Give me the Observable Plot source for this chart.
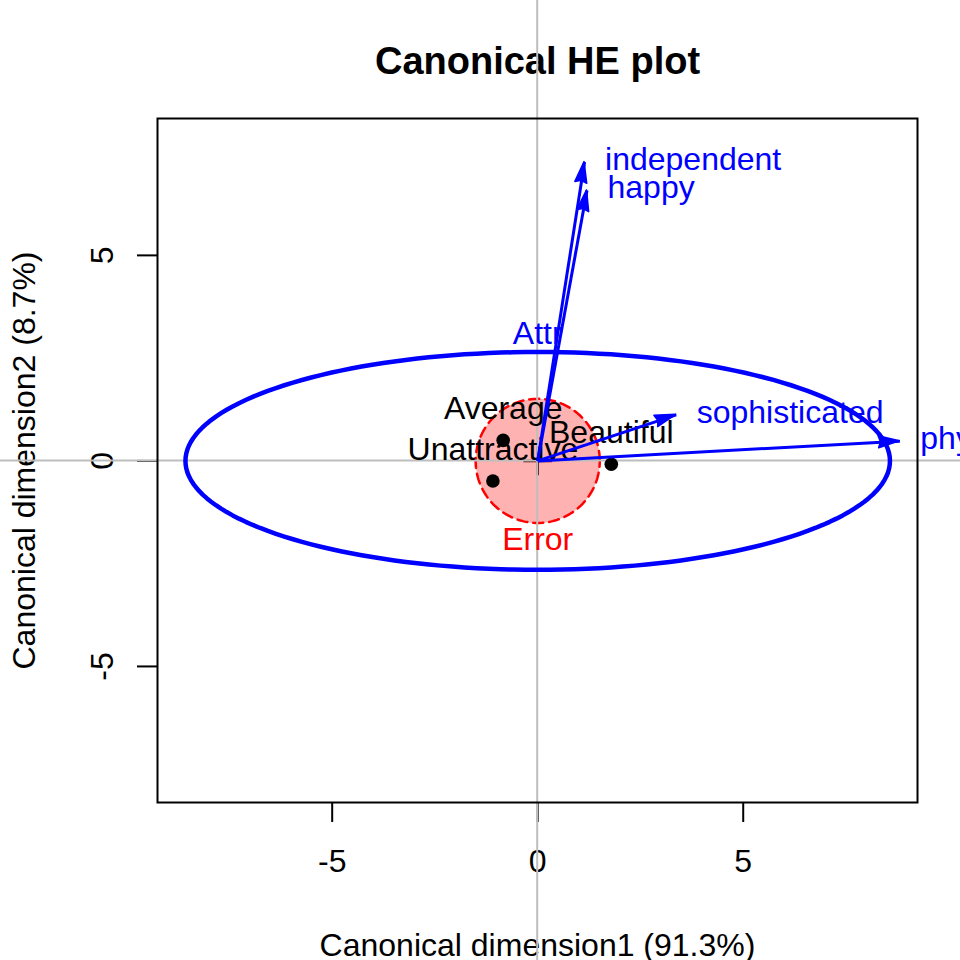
<!DOCTYPE html>
<html>
<head>
<meta charset="utf-8">
<script src="https://cdn.jsdelivr.net/npm/d3@7"></script>
<script src="https://cdn.jsdelivr.net/npm/@observablehq/plot@0.6"></script>
<style>
html, body { margin: 0; padding: 0; background: #fff; overflow: hidden; }
#chart svg { display: block; }
</style>
</head>
<body>
<div id="chart"></div>
<script>
// ---- data ----
const title = "Canonical HE plot";
const xLabel = "Canonical dimension1 (91.3%)";
const yLabel = "Canonical dimension2 (8.7%)";
const xTicks = [-5, 0, 5];
const yTicks = [-5, 0, 5];

const groupNames = ["Average", "Unattractive", "Beautiful"];
const groupX = [-0.84, -1.09, 1.79];
const groupY = [0.50, -0.49, -0.08];

const vectorNames = ["independent", "happy", "sophisticated", "phyattr"];
const vectorX = [1.14, 1.20, 3.37, 8.81];
const vectorY = [7.27, 6.58, 1.12, 0.48];

const hName = "Attr";
const hRadii = [8.57, 2.65];
const eName = "Error";
const eRadius = 1.51;

// ---- derived tables ----
const font = "'Liberation Sans', Arial, Helvetica, sans-serif";
const groups = groupNames.map((name, i) => ({name, x: groupX[i], y: groupY[i]}));
const vectors = vectorNames.map((name, i) => ({name, x: vectorX[i], y: vectorY[i]}));
const angles = d3.range(0, 360, 2).map(d => d * Math.PI / 180);
const hEllipse = angles.map(t => ({x: hRadii[0] * Math.cos(t), y: hRadii[1] * Math.sin(t)}));
const eCircle = angles.map(t => ({x: eRadius * Math.cos(t), y: eRadius * Math.sin(t)}));

// gray reference lines through the origin, across the whole figure
function crossLines(index, scales, values, dims) {
  const g = d3.create("svg:g").attr("stroke", "#bebebe").attr("stroke-width", 2);
  const x0 = scales.x(0), y0 = scales.y(0);
  g.append("line").attr("x1", x0).attr("x2", x0).attr("y1", 0).attr("y2", dims.height);
  g.append("line").attr("x1", 0).attr("x2", dims.width).attr("y1", y0).attr("y2", y0);
  return g.node();
}

// filled arrow heads at the vector tips
function arrowHeads(index, scales) {
  const g = d3.create("svg:g").attr("fill", "blue").attr("stroke", "blue")
    .attr("stroke-width", 1.5).attr("stroke-linejoin", "round");
  const L = 21, W = 6;
  for (const v of vectors) {
    const x1 = scales.x(0), y1 = scales.y(0), x2 = scales.x(v.x), y2 = scales.y(v.y);
    const a = Math.atan2(y2 - y1, x2 - x1);
    const ca = Math.cos(a), sa = Math.sin(a);
    const bx = x2 - L * ca, by = y2 - L * sa;
    const ix = x2 - 0.9 * L * ca, iy = y2 - 0.9 * L * sa;
    g.append("path").attr("d",
      `M${x2},${y2}L${bx - sa * W},${by + ca * W}L${ix},${iy}L${bx + sa * W},${by - ca * W}Z`);
  }
  return g.node();
}

const plot = Plot.plot({
  width: 960,
  height: 960,
  marginLeft: 157,
  marginRight: 43,
  marginTop: 118,
  marginBottom: 158,
  x: {domain: [-9.25, 9.24]},
  y: {domain: [-8.31, 8.33]},
  style: {fontFamily: font, fontSize: "32px", background: "white", color: "black"},
  marks: [
    // titles
    Plot.text([title], {frameAnchor: "top", text: d => d, textAnchor: "middle", lineAnchor: "bottom", dy: -45,
      fontSize: 38, fontWeight: "bold", fill: "black"}),
    Plot.text([xLabel], {frameAnchor: "bottom", text: d => d, textAnchor: "middle", lineAnchor: "bottom", dy: 153,
      fontSize: 32, fill: "black"}),
    Plot.text([yLabel], {frameAnchor: "left", text: d => d, rotate: -90, textAnchor: "middle", lineAnchor: "bottom",
      dx: -123, fontSize: 32, fill: "black"}),
    // axes
    Plot.axisX({ticks: xTicks, tickSize: 20, tickPadding: 27, tickFormat: d => String(d),
      fontSize: 32, strokeWidth: 2, label: null}),
    Plot.axisY({ticks: yTicks, tickSize: 20, tickPadding: 25, tickRotate: -90, tickFormat: d => String(d),
      fontSize: 32, strokeWidth: 2, label: null}),
    // origin marker
    Plot.dot([0], {x: 0, y: 0, symbol: "plus", r: 9.25, stroke: "black", strokeWidth: 2.5}),
    // error circle
    Plot.line(eCircle, {x: "x", y: "y", curve: "linear-closed", fill: "red", fillOpacity: 0.3,
      stroke: "red", strokeWidth: 2.5, strokeDasharray: "10,6"}),
    crossLines,
    // hypothesis ellipse
    Plot.line(hEllipse, {x: "x", y: "y", curve: "linear-closed", stroke: "blue", strokeWidth: 4.5}),
    Plot.text([hName], {x: 0, y: hRadii[1], text: d => d, lineAnchor: "bottom", dy: -7.6,
      fill: "blue", fontSize: 32}),
    Plot.text([eName], {x: 0, y: -eRadius, text: d => d, lineAnchor: "bottom", dy: 26.7,
      fill: "red", fontSize: 32}),
    // group means
    Plot.dot(groups, {x: "x", y: "y", r: 6.8, fill: "black"}),
    Plot.text(groups, {x: "x", y: "y", text: "name", lineAnchor: "bottom", dy: -21,
      fill: "black", fontSize: 32}),
    // variable vectors
    Plot.link(vectors, {x1: 0, y1: 0, x2: "x", y2: "y", stroke: "blue", strokeWidth: 3}),
    arrowHeads,
    Plot.text(vectors, {x: "x", y: "y", text: "name", textAnchor: "start", dx: 20.5,
      lineAnchor: "bottom", dy: 8, fill: "blue", fontSize: 32}),
    Plot.frame({stroke: "black", strokeWidth: 2})
  ]
});
document.getElementById("chart").appendChild(plot);
</script>
</body>
</html>
